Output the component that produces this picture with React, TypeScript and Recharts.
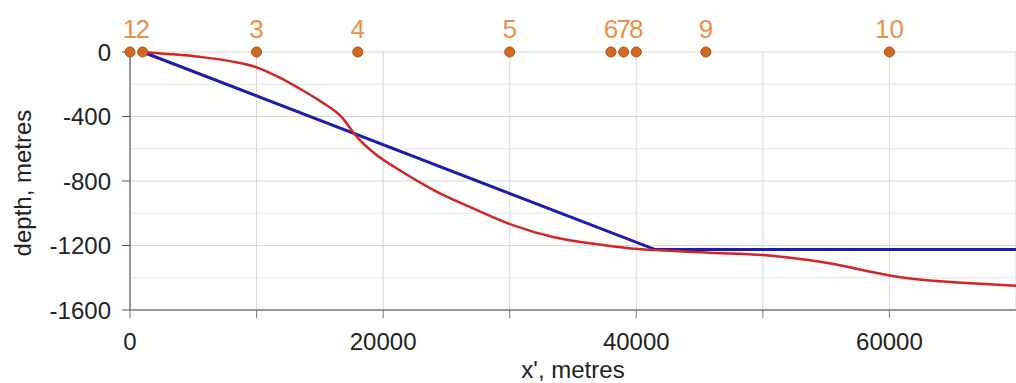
import React from "react"
import {
  ComposedChart,
  Line,
  Scatter,
  XAxis,
  YAxis,
  CartesianGrid,
  ReferenceLine,
  Label,
} from "recharts"

// profile along x' (metres) -> depth (metres)
const redX = [1000, 3000, 5500, 8000, 10000, 11600, 13400, 15000, 16800, 17700, 18200, 19500, 21000, 24100, 27200, 30300, 33400, 36500, 39600, 41500, 45800, 50000, 53600, 55800, 58300, 60000, 63000, 66100, 70000]
const redDepth = [0, -12, -30, -58, -95, -150, -227, -303, -410, -505, -550, -640, -718, -861, -973, -1075, -1147, -1188, -1218, -1228, -1245, -1259, -1290, -1318, -1360, -1386, -1416, -1433, -1450]

const blueX = [1000, 41500, 70000]
const blueDepth = [0, -1225, -1225]

// numbered stations on the surface
const stationX = [0, 1000, 10000, 18000, 30000, 38000, 39000, 40000, 45500, 60000]
const stationLabels = ["1", "2", "3", "4", "5", "6", "7", "8", "9", "10"]

const xTicks = [0, 10000, 20000, 30000, 40000, 50000, 60000]
const yTicks = [-1600, -1200, -800, -400, 0]
const yMinor = [-1400, -1000, -600, -200]

const FONT = "'Liberation Sans', Arial, sans-serif"

const redData = redX.map((x, i) => ({ x, depth: redDepth[i] }))
const blueData = blueX.map((x, i) => ({ x, depth: blueDepth[i] }))
const stationData = stationX.map((x, i) => ({ x, depth: 0, label: stationLabels[i] }))

const StationDot = (props: any) => {
  const { cx, cy, payload } = props
  const label = payload?.label ?? props.label
  return (
    <g>
      <circle cx={cx} cy={cy} r={5} fill="#d2691e" stroke="#a4501c" strokeWidth={1} />
      <text
        x={cx}
        y={cy - 14}
        textAnchor="middle"
        fill="#e8904a"
        fontSize={26}
        fontFamily={FONT}
      >
        {label}
      </text>
    </g>
  )
}

export default function App() {
  return (
    <div style={{ position: "absolute", left: 0, top: 0, width: 1016, height: 383, background: "#fff" }}>
      <ComposedChart width={1016} height={383} margin={{ top: 52, right: 0, bottom: 0, left: 0 }}>
        <CartesianGrid stroke="#d6d6d6" strokeWidth={1} />
        {yMinor.map((v) => (
          <ReferenceLine key={v} y={v} stroke="#e6e6e6" strokeWidth={1} />
        ))}
        <XAxis
          type="number"
          dataKey="x"
          domain={[0, 70000]}
          ticks={xTicks}
          interval={0}
          tickFormatter={(v) => (v % 20000 === 0 ? String(v) : "")}
          height={73}
          tickSize={8}
          tickMargin={15}
          stroke="#9a9a9a"
          axisLine={{ stroke: "#9a9a9a", strokeWidth: 2 }}
          tickLine={{ stroke: "#777" }}
          tick={{ fill: "#222", fontSize: 24, fontFamily: FONT }}
        >
          <Label
            content={({ viewBox }: any) => (
              <text
                x={viewBox.x + viewBox.width / 2}
                y={viewBox.y + 68}
                textAnchor="middle"
                fill="#222"
                fontSize={24}
                fontFamily={FONT}
              >
                x', metres
              </text>
            )}
          />
        </XAxis>
        <YAxis
          type="number"
          dataKey="depth"
          domain={[-1600, 0]}
          ticks={yTicks}
          interval={0}
          width={130}
          tickSize={8}
          tickMargin={11}
          axisLine={{ stroke: "#444", strokeWidth: 1 }}
          tickLine={{ stroke: "#555" }}
          tick={{ fill: "#222", fontSize: 24, fontFamily: FONT }}
        >
          <Label
            content={({ viewBox }: any) => {
              const x = viewBox.x + 31
              const y = viewBox.y + viewBox.height / 2 + 2
              return (
                <text
                  x={x}
                  y={y}
                  transform={`rotate(-90, ${x}, ${y})`}
                  textAnchor="middle"
                  fill="#222"
                  fontSize={24}
                  fontFamily={FONT}
                >
                  depth, metres
                </text>
              )
            }}
          />
        </YAxis>
        <Line
          data={blueData}
          dataKey="depth"
          type="linear"
          stroke="#1c1cb0"
          strokeWidth={3}
          dot={false}
          isAnimationActive={false}
        />
        <Line
          data={redData}
          dataKey="depth"
          type="monotone"
          stroke="#d42424"
          strokeWidth={2.5}
          dot={false}
          isAnimationActive={false}
        />
        <Scatter data={stationData} dataKey="depth" shape={<StationDot />} isAnimationActive={false} />
      </ComposedChart>
    </div>
  )
}
